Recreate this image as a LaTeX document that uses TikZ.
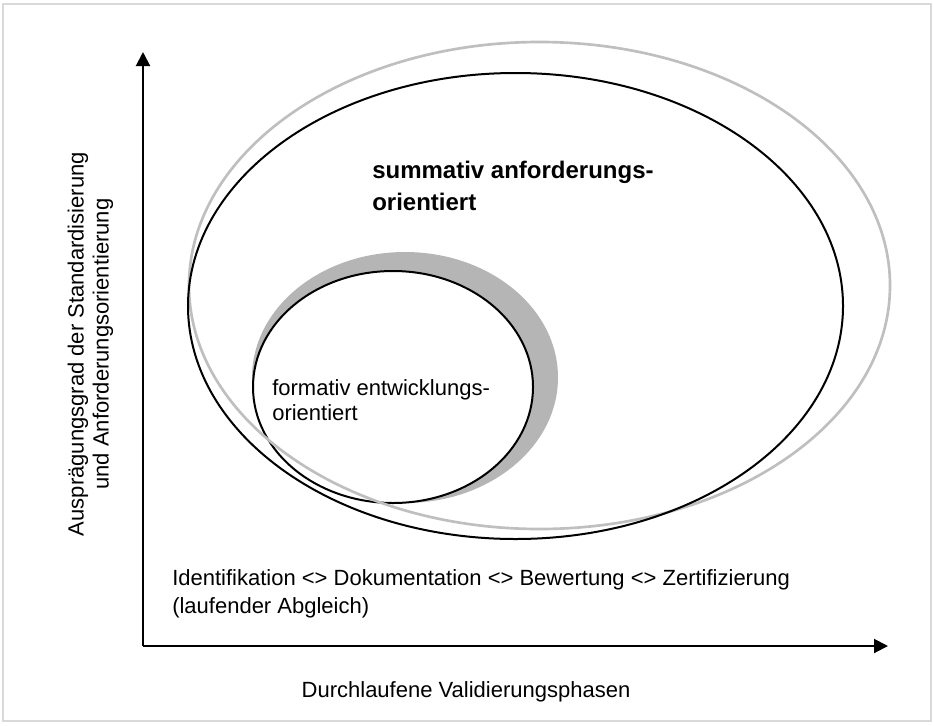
\documentclass[tikz,border=0pt]{standalone}
\usepackage{fontspec}
\setmainfont{Liberation Sans}
\usetikzlibrary{arrows.meta}

\begin{document}
\begin{tikzpicture}[x=0.75pt,y=-0.75pt,
   txt/.style={inner sep=0pt, align=left, font=\fontsize{16.5}{18.75}\selectfont},
   ring/.style={line width=1.5pt}]
   \useasboundingbox (0,0) rectangle (934,725);
   \draw [black!15, line width=1.2pt] (3,4) rectangle (931,721);

   \coordinate (o) at (143,646);
   \coordinate (ytip) at (143,52);
   \coordinate (xtip) at (888,646);

   % inner ellipse with grey shadow
   \fill [black!29] (405,377.5) ellipse [x radius=153, y radius=125.5];
   \draw [ring, fill=white] (393,387) ellipse [x radius=140, y radius=116];
   % outer ellipses
   \draw [ring, line width=2pt, black!25] (539.5,285.5) ellipse [x radius=350.5, y radius=243.5];
   \draw [ring] (515.5,306) ellipse [x radius=327.5, y radius=233];

   \draw [line width=1.5pt, -{Triangle[length=10.5pt, width=10.5pt]}] (o) -- (ytip);
   \draw [line width=1.5pt, -{Triangle[length=10.5pt, width=10.5pt]}] (o) -- (xtip);

   \node [txt, anchor=west, font=\bfseries\fontsize{18}{24}\selectfont] (summ) at (372,186) {summativ anforderungs-\\orientiert};
   \node [txt, anchor=west] (form) at (272,400.5) {formativ entwicklungs-\\orientiert};
   \node [txt, anchor=west, font=\fontsize{16.5}{21}\selectfont] (phases) at (172,594) {Identifikation <> Dokumentation <> Bewertung <> Zertifizierung\\(laufender Abgleich)};
   \node [txt] (xlabel) at (466,692) {Durchlaufene Validierungsphasen};
   \node [txt, align=center, rotate=90] (ylabel) at (90.5,344) {Ausprägungsgrad der Standardisierung\\und Anforderungsorientierung};
\end{tikzpicture}
\end{document}
